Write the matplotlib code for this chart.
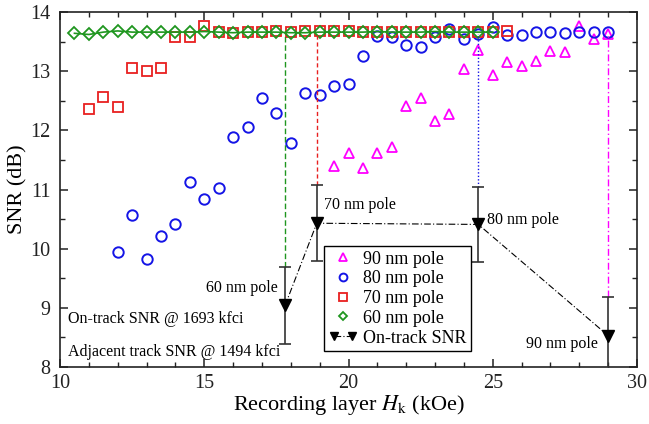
import matplotlib
matplotlib.use("Agg")
import matplotlib.pyplot as plt
import numpy as np
from matplotlib.ticker import MultipleLocator
from matplotlib.legend_handler import HandlerLine2D

plt.rcParams["font.family"] = ["Liberation Serif", "DejaVu Serif"]
plt.rcParams["mathtext.fontset"] = "stix"

# --- data ---
hk_60 = np.arange(10.5, 25.01, 0.5)
snr_60 = [13.64, 13.62, 13.66, 13.68, 13.66, 13.66, 13.66, 13.66, 13.66, 13.67,
          13.66, 13.65, 13.66, 13.66, 13.66, 13.65, 13.65, 13.66, 13.66, 13.66,
          13.66, 13.67, 13.66, 13.66, 13.66, 13.67, 13.66, 13.66, 13.66, 13.66]

hk_70 = np.arange(11.0, 25.51, 0.5)
snr_70 = [12.36, 12.56, 12.40, 13.06, 13.01, 13.06, 13.57, 13.57, 13.77, 13.66,
          13.64, 13.66, 13.66, 13.68, 13.66, 13.68, 13.68, 13.68, 13.68, 13.67,
          13.66, 13.67, 13.66, 13.67, 13.66, 13.67, 13.66, 13.66, 13.66, 13.68]

hk_80 = np.arange(12.0, 29.01, 0.5)
snr_80 = [9.95, 10.57, 9.83, 10.22, 10.41, 11.12, 10.84, 11.03, 11.89, 12.06,
          12.54, 12.29, 11.78, 12.63, 12.59, 12.75, 12.78, 13.25, 13.59, 13.57,
          13.44, 13.41, 13.57, 13.71, 13.54, 13.62, 13.74, 13.61, 13.61, 13.67,
          13.67, 13.64, 13.67, 13.66, 13.66]

hk_90 = np.arange(19.5, 29.01, 0.5)
snr_90 = [11.40, 11.61, 11.36, 11.61, 11.71, 12.41, 12.55, 12.15, 12.28, 13.04,
          13.36, 12.93, 13.15, 13.09, 13.17, 13.34, 13.32, 13.77, 13.54, 13.62]

# on-track SNR for each pole width
pole_hk = [17.8, 18.9, 24.5, 29.0]
pole_snr = [9.04, 10.43, 10.41, 8.53]
pole_err = [0.65, 0.64, 0.64, 0.66]
pole_top = [13.65, 13.66, 13.62, 13.62]
pole_labels = ["60 nm pole", "70 nm pole", "80 nm pole", "90 nm pole"]

c_mag = "#ff00ff"
c_blue = "#1414e6"
c_red = "#e82020"
c_green = "#1f961f"

fig = plt.figure(figsize=(6.49, 4.24), dpi=100)
ax = fig.add_axes([0.0925, 0.1344, 0.889, 0.8373])

ms = 7.5
ax.plot(hk_60, snr_60, "-", color=c_green, lw=1.2, zorder=3)
h90, = ax.plot(hk_90, snr_90, "^", ms=ms, mfc="none", mec=c_mag, mew=1.3, ls="none", label="90 nm pole")
h80, = ax.plot(hk_80, snr_80, "o", ms=ms, mfc="none", mec=c_blue, mew=1.4, ls="none", label="80 nm pole")
h70, = ax.plot(hk_70, snr_70, "s", ms=ms - 0.5, mfc="none", mec=c_red, mew=1.3, ls="none", label="70 nm pole")
h60, = ax.plot(hk_60, snr_60, "D", ms=ms - 1.5, mfc="none", mec=c_green, mew=1.3, ls="none", label="60 nm pole")

# vertical guides from the saturation level to the on-track error bar
vstyles = [(c_green, (0, (4, 2))), (c_red, (0, (3, 2))), (c_blue, (0, (1, 1.5))), (c_mag, (0, (5, 2, 1, 2)))]
for x, top, y, e, (col, ls) in zip(pole_hk, pole_top, pole_snr, pole_err, vstyles):
    ax.vlines(x, y + e, top, colors=col, linestyles=ls, lw=1.0, zorder=2)

ax.errorbar(pole_hk, pole_snr, yerr=pole_err, fmt="none", ecolor="#333333",
            elinewidth=1.2, capsize=4, capthick=1.2, zorder=4)
hon, = ax.plot(pole_hk, pole_snr, color="black", ls=(0, (6, 2, 1, 2)), lw=0.8,
               marker="v", ms=8, mfc="black", mec="black", label="On-track SNR", zorder=5)

fs_ann = 11.5
ax.text(17.55, 9.33, pole_labels[0], ha="right", va="center", fontsize=fs_ann)
ax.text(19.15, 10.74, pole_labels[1], ha="left", va="center", fontsize=fs_ann)
ax.text(24.79, 10.49, pole_labels[2], ha="left", va="center", fontsize=fs_ann)
ax.text(28.66, 8.39, pole_labels[3], ha="right", va="center", fontsize=fs_ann)
ax.text(10.29, 8.81, "On-track SNR @ 1693 kfci", ha="left", va="center", fontsize=fs_ann)
ax.text(10.29, 8.26, "Adjacent track SNR @ 1494 kfci", ha="left", va="center", fontsize=fs_ann)

single = HandlerLine2D(numpoints=1)
leg = ax.legend(handles=[h90, h80, h70, h60, hon], loc="lower left",
                bbox_to_anchor=(0.458, 0.045), fontsize=13, frameon=True,
                fancybox=False, edgecolor="black", framealpha=1,
                handlelength=1.6, handletextpad=0.3, borderpad=0.25,
                labelspacing=0.15, borderaxespad=0, markerscale=0.75, numpoints=2,
                handler_map={h90: single, h80: single, h70: single, h60: single})
leg.get_frame().set_linewidth(1.0)

ax.set_xlim(10, 30)
ax.set_ylim(8, 14)
ax.xaxis.set_major_locator(MultipleLocator(5))
ax.xaxis.set_minor_locator(MultipleLocator(1))
ax.yaxis.set_major_locator(MultipleLocator(1))
ax.yaxis.set_minor_locator(MultipleLocator(0.5))
ax.tick_params(which="both", direction="in", top=True, right=True, labelsize=14.5, colors="#222222")
ax.tick_params(which="major", length=6, width=1.1, pad=7)
ax.tick_params(which="minor", length=3.5, width=1.0)
ax.tick_params(axis="x", which="major", pad=5)
for sp in ax.spines.values():
    sp.set_linewidth(1.2)
    sp.set_color("#222222")

ax.set_xlabel("Recording layer $H_\\mathrm{k}$ (kOe)", fontsize=16, labelpad=0)
ax.set_ylabel("SNR (dB)", fontsize=16, labelpad=2)

fig.savefig("out.png", dpi=100)
